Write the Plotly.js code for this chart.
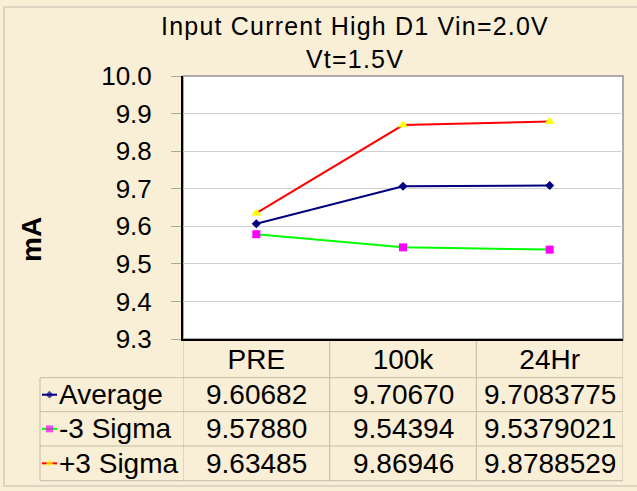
<!DOCTYPE html>
<html>
<head>
<meta charset="utf-8">
<script src="https://cdn.plot.ly/plotly-3.0.1.min.js"></script>
<style>
html, body { margin: 0; padding: 0; background: #F9EED6; }
.gtitle { letter-spacing: 1.2px; }
</style>
</head>
<body>
<div id="chart" style="width:637px;height:491px;"></div>
<script>
// ---- data ----
const categories = ['PRE', '100k', '24Hr'];
const seriesNames = ['Average', '-3 Sigma', '+3 Sigma'];
const average = [9.60682, 9.70670, 9.7083775];
const minus3Sigma = [9.57880, 9.54394, 9.5379021];
const plus3Sigma = [9.63485, 9.86946, 9.8788529];
const tableDecimals = [5, 5, 7];
const yTicks = [9.3, 9.4, 9.5, 9.6, 9.7, 9.8, 9.9, 10.0];

// ---- layout geometry (pixels) ----
const W = 637, H = 491;
const L = 183, R = 623, T = 76, B = 339;
const rowTops = [377.7, 411.7, 446, 480.7];
const tableLeft = 40;
const px = x => x / W;
const py = y => 1 - y / H;
const FONT = 'Liberation Sans, Arial, sans-serif';

const seriesValues = [average, minus3Sigma, plus3Sigma];
const styles = [
  {line: '#000080', marker: '#000080', symbol: 'diamond', size: 7},
  {line: '#00FF00', marker: '#FF00FF', symbol: 'square', size: 8},
  {line: '#FF0000', marker: '#FFFF00', symbol: 'triangle-up', size: 9}
];

const traces = [];
seriesValues.forEach((vals, i) => {
  traces.push({
    type: 'scatter', mode: 'lines+markers', name: seriesNames[i],
    x: categories, y: vals, xaxis: 'x', yaxis: 'y',
    line: {color: styles[i].line, width: 2},
    marker: {color: styles[i].marker, symbol: styles[i].symbol, size: styles[i].size,
             line: {width: 0}},
    cliponaxis: false, hoverinfo: 'skip'
  });
});
// legend keys inside the table (overlay axis spanning the whole page, in pixel units)
seriesNames.forEach((n, i) => {
  const yc = (rowTops[i] + rowTops[i + 1]) / 2;
  traces.push({
    type: 'scatter', mode: 'lines+markers', showlegend: false,
    x: [42, 49.5, 57], y: [yc, yc, yc], xaxis: 'x2', yaxis: 'y2',
    line: {color: styles[i].line, width: 2},
    marker: {color: styles[i].marker, symbol: styles[i].symbol,
             size: [0, styles[i].size - 1, 0], line: {width: 0}},
    hoverinfo: 'skip'
  });
});

const tableLine = {color: '#C4BBA8', width: 1};
const shapes = [
  // outer border
  {type: 'rect', xref: 'paper', yref: 'paper', x0: px(4), x1: px(645), y0: py(7), y1: py(486),
   line: {color: '#D5CCBB', width: 1.5}, layer: 'below'},
  // plot area
  {type: 'rect', xref: 'paper', yref: 'paper', x0: px(L), x1: px(R), y0: py(B), y1: py(T),
   fillcolor: '#FFFFFF', line: {color: '#ABABAB', width: 2}, layer: 'below'}
];
// table horizontal lines
rowTops.forEach(y => {
  shapes.push({type: 'line', xref: 'paper', yref: 'paper', x0: px(tableLeft), x1: px(R),
               y0: py(y), y1: py(y), line: tableLine, layer: 'below'});
});
// table vertical lines
shapes.push({type: 'line', xref: 'paper', yref: 'paper', x0: px(tableLeft), x1: px(tableLeft),
             y0: py(rowTops[0]), y1: py(rowTops[3]), line: tableLine, layer: 'below'});
for (let k = 0; k <= categories.length; k++) {
  shapes.push({type: 'line', xref: 'x', yref: 'paper', x0: k - 0.5, x1: k - 0.5,
               y0: py(B), y1: py(rowTops[3]), line: tableLine, layer: 'below'});
}

const annotations = [];
seriesValues.forEach((vals, i) => {
  const yc = (rowTops[i] + rowTops[i + 1]) / 2;
  annotations.push({xref: 'paper', yref: 'paper', x: px(58), y: py(yc), xanchor: 'left', yanchor: 'middle',
                    text: seriesNames[i], showarrow: false, borderpad: 0,
                    font: {family: FONT, size: 28, color: '#000'}});
  vals.forEach((v, j) => {
    annotations.push({xref: 'x', yref: 'paper', x: j, y: py(yc), xanchor: 'center', yanchor: 'middle',
                      text: v.toFixed(tableDecimals[j]), showarrow: false, borderpad: 0,
                      font: {family: FONT, size: 28, color: '#000'}});
  });
});
annotations.push({xref: 'paper', yref: 'paper', x: px(31), y: py(240), textangle: -90,
                  text: '<b>mA</b>', showarrow: false, xanchor: 'center', yanchor: 'middle',
                  font: {family: FONT, size: 28, color: '#000'}});

const layout = {
  width: W, height: H,
  margin: {l: 0, r: 0, t: 0, b: 0},
  paper_bgcolor: '#F9EED6',
  plot_bgcolor: 'rgba(0,0,0,0)',
  showlegend: false,
  title: {text: 'Input Current High D1 Vin=2.0V<br>Vt=1.5V', x: 355 / W, xanchor: 'center',
          y: py(35), yanchor: 'middle', font: {family: FONT, size: 25, color: '#000'}},
  xaxis: {domain: [px(L), px(R)], anchor: 'y', type: 'category', categoryarray: categories,
          range: [-0.5, 2.5], showgrid: false, zeroline: false, showline: true,
          linecolor: '#000', linewidth: 2, ticks: '', ticklen: 0, ticklabelstandoff: -6,
          tickfont: {family: FONT, size: 28, color: '#000'}, fixedrange: true},
  yaxis: {domain: [py(B), py(T)], anchor: 'x', range: [9.3, 10.0], tickvals: yTicks,
          tickformat: '.1f', showgrid: true, gridcolor: '#D0D0D0', gridwidth: 1, zeroline: false,
          showline: true, linecolor: '#000', linewidth: 2, ticks: 'outside', ticklen: 10,
          tickcolor: '#A8A8A8', tickwidth: 1, ticklabelstandoff: 14,
          tickfont: {family: FONT, size: 26, color: '#000'}, fixedrange: true},
  xaxis2: {domain: [0, 1], anchor: 'y2', range: [0, W], visible: false, fixedrange: true},
  yaxis2: {domain: [0, 1], anchor: 'x2', range: [H, 0], visible: false, fixedrange: true},
  shapes: shapes,
  annotations: annotations
};

Plotly.newPlot('chart', traces, layout, {displayModeBar: false, staticPlot: true});
</script>
</body>
</html>
